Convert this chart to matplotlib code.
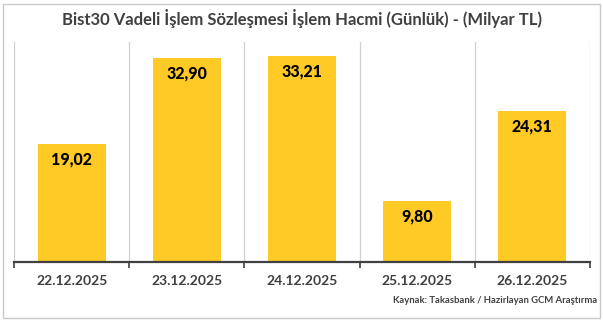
import matplotlib
matplotlib.use("Agg")
import matplotlib.pyplot as plt
from matplotlib.patches import Rectangle
import numpy as np

plt.rcParams["font.family"] = ["Lato", "DejaVu Sans"]

dates = ["22.12.2025", "23.12.2025", "24.12.2025", "25.12.2025", "26.12.2025"]
volumes = [19.02, 32.90, 33.21, 9.80, 24.31]
labels = ["19,02", "32,90", "33,21", "9,80", "24,31"]

fig = plt.figure(figsize=(6.03, 3.22), dpi=100)
fig.patches.append(Rectangle((0.005, 0.012), 0.99, 0.976, transform=fig.transFigure,
                             fill=False, edgecolor="#c8c8c8", linewidth=1.0))

ax = fig.add_axes([0.0232, 0.186, 0.9552, 0.684])
x = np.arange(len(dates))
bars = ax.bar(x, volumes, width=0.59, color="#FFC926", zorder=2)

for b, lab in zip(bars, labels):
    ax.text(b.get_x() + b.get_width() / 2, b.get_height() - 1.2, lab,
            ha="center", va="top", fontsize=11.5, fontweight="black", color="black")

ax.set_xlim(-0.5, len(dates) - 0.5)
ax.set_ylim(0, 35.5)

# category separators as vertical gridlines
for xb in np.arange(-0.5, len(dates), 1.0):
    ax.axvline(xb, color="#d0d0d0", linewidth=0.9, zorder=1)

ax.set_xticks(x)
ax.set_xticklabels(dates, fontsize=10, fontweight="bold", color="#404040")
ax.tick_params(axis="x", length=0, pad=9)
ax.set_xticks(np.arange(-0.5, len(dates), 1.0), minor=True)
ax.tick_params(axis="x", which="minor", length=4, width=1.2, color="#404040")
ax.set_yticks([])

for s in ["top", "right", "left"]:
    ax.spines[s].set_visible(False)
ax.spines["bottom"].set_color("#404040")
ax.spines["bottom"].set_linewidth(1.6)

fig.text(0.5, 0.944, "Bist30 Vadeli İşlem Sözleşmesi İşlem Hacmi (Günlük) - (Milyar TL)",
         ha="center", va="center", fontsize=12, fontweight="bold", color="#404040")
fig.text(0.99, 0.068, "Kaynak: Takasbank / Hazirlayan GCM Araştırma",
         ha="right", va="center", fontsize=6.8, fontweight="bold", color="#404040")

fig.savefig("out.png", dpi=100)
